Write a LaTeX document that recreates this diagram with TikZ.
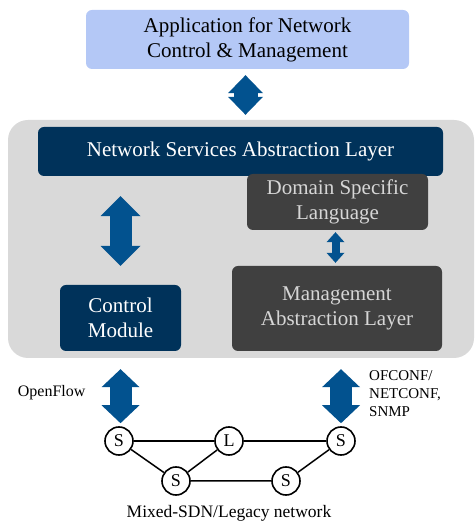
\documentclass[tikz,border=0pt]{standalone}
\usepackage{fontspec}
\setmainfont{Liberation Serif}
\usetikzlibrary{arrows.meta}

\definecolor{appblue}{HTML}{B4C8F6}
\definecolor{navy}{HTML}{00325A}
\definecolor{darkgrey}{HTML}{404040}
\definecolor{lightgrey}{HTML}{D6D6D6}
\definecolor{bggrey}{HTML}{D9D9D9}
\definecolor{arrowblue}{HTML}{02528F}

\tikzset{
    box/.style={rounded corners=6pt, align=center, inner sep=0pt,
        font=\fontsize{21}{25}\selectfont},
    navybox/.style={box, fill=navy, text=white},
    greybox/.style={box, fill=darkgrey, text=lightgrey},
    sw/.style={circle, draw, line width=1.6pt, minimum size=28pt, inner sep=0pt,
        font=\fontsize{18}{20}\selectfont},
    link/.style={line width=1.5pt},
    blockarrow/.style n args={3}{line width=#1, draw=arrowblue, fill=arrowblue,
        >={Triangle[width=#2, length=#3, line width=0pt]}, <->},
}

\begin{document}
\begin{tikzpicture}[x=1pt, y=1pt]
        \useasboundingbox (0, 0) rectangle (474, 522);
        % controller core
        \node [fill=bggrey, rounded corners=20pt, minimum width=466pt,
            minimum height=238pt, inner sep=0pt] (core) at (241, 283) {};
        \node [box, fill=appblue, minimum width=323pt, minimum height=59pt]
            (app) at (247.5, 482.5) {Application for Network\\Control \& Management};
        \node [navybox, minimum width=405pt, minimum height=49pt]
            (nsal) at (240.5, 370.5) {Network Services Abstraction Layer};
        \node [greybox, minimum width=181pt, minimum height=56pt]
            (dsl) at (337.5, 320) {Domain Specific\\Language};
        \node [navybox, minimum width=121pt, minimum height=66pt]
            (ctrl) at (120.5, 204) {Control\\Module};
        \node [greybox, minimum width=210pt, minimum height=85pt]
            (mal) at (337, 213.5) {Management\\Abstraction Layer};
        % network
        \node [sw] (s1) at (119, 81) {S};
        \node [sw] (l) at (229, 81) {L};
        \node [sw] (s3) at (341, 81) {S};
        \node [sw] (s4) at (176, 41) {S};
        \node [sw] (s5) at (286, 41) {S};
        \draw [link] (s1) -- (l) -- (s3);
        \draw [link] (s1) -- (s4) -- (l);
        \draw [link] (s4) -- (s5) -- (s3);
        \node [anchor=east, font=\fontsize{16}{19}\selectfont] (of) at (89, 129) {OpenFlow};
        \node [anchor=west, align=left, inner sep=0pt, font=\fontsize{15}{18}\selectfont]
            (ofc) at (369, 128) {OFCONF/\\NETCONF,\\SNMP};
        \node [anchor=base, font=\fontsize{17.5}{20}\selectfont, inner sep=0pt]
            (mix) at (229, 5) {Mixed-SDN/Legacy network};
        % block arrows
        \draw [blockarrow={24pt}{35pt}{18pt}, shorten <=6pt, shorten >=5pt]
            ([xshift=-2pt]app.south) -- ([xshift=-2pt]app.south |- core.north);
        \draw [blockarrow={22pt}{40pt}{20pt}, shorten <=20pt, shorten >=19pt]
            (nsal.south -| ctrl.north) -- (ctrl.north);
        \draw [blockarrow={8pt}{18pt}{10pt}, shorten <=2pt, shorten >=3pt]
            ([xshift=-2pt]dsl.south) -- ([xshift=-2pt]dsl.south |- mal.north);
        \draw [blockarrow={22pt}{38pt}{18pt}, shorten <=18pt, shorten >=3pt]
            (ctrl.south) -- (s1.north -| ctrl.south);
        \draw [blockarrow={22pt}{38pt}{18pt}, shorten <=18pt, shorten >=3pt]
            (mal.south -| s3.north) -- (s3.north);
    \end{tikzpicture}
\end{document}
